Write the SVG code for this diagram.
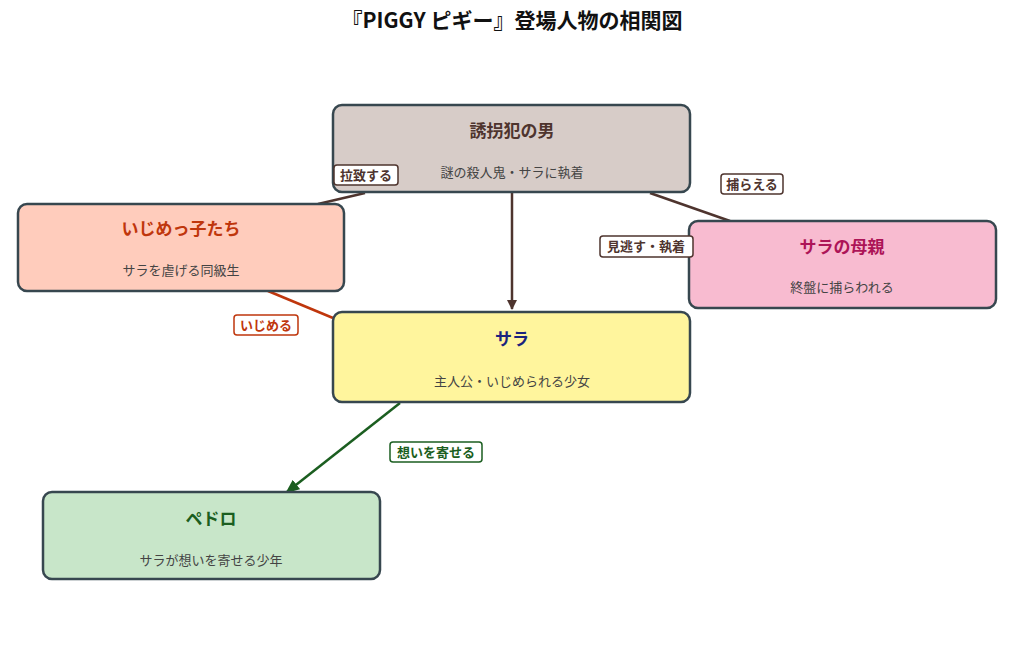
<svg xmlns="http://www.w3.org/2000/svg" width="1024" height="657" viewBox="0 0 1024 657">
<style>
text{font-family:"Noto Sans CJK JP","Noto Sans",sans-serif;text-anchor:middle}
.box{stroke:#37474f;stroke-width:2.5}
.t{font-size:17px;font-weight:bold}
.s{font-size:13px;fill:#444}
.lb{fill:#fff;stroke-width:1.5}
.lt{font-size:13px;font-weight:bold}
</style>
<defs>
<marker id="ab" markerWidth="10" markerHeight="10" refX="9" refY="5" orient="auto" markerUnits="userSpaceOnUse"><path d="M0,0L10,5L0,10z" fill="#4e342e"/></marker>
<marker id="ag" markerWidth="14" markerHeight="12" refX="12" refY="6" orient="auto" markerUnits="userSpaceOnUse"><path d="M0,0L14,6L0,12z" fill="#1b5e20"/></marker>
</defs>
<rect width="1024" height="657" fill="#fff"/>
<text x="512" y="28" style="font-size:21px;font-weight:bold" fill="#111">『PIGGY ピギー』登場人物の相関図</text>
<g id="connectors" fill="none" stroke-width="2.5">
<line x1="365" y1="193" x2="318" y2="204" stroke="#4e342e"/>
<line x1="650" y1="193" x2="730" y2="221" stroke="#4e342e"/>
<line x1="512" y1="193" x2="512" y2="309" stroke="#4e342e" marker-end="url(#ab)"/>
<line x1="268" y1="291" x2="333" y2="318" stroke="#bf360c"/>
<line x1="400" y1="403" x2="287" y2="492" stroke="#1b5e20" marker-end="url(#ag)"/>
</g>
<g id="n-man"><rect class="box" x="333" y="105" width="357" height="87" rx="9" fill="#d7ccc8"/><text class="t" x="512" y="137" fill="#4e342e">誘拐犯の男</text><text class="s" x="512" y="177">謎の殺人鬼・サラに執着</text></g>
<g id="n-ijime"><rect class="box" x="18" y="204" width="326" height="87" rx="9" fill="#ffccbc"/><text class="t" x="181" y="235" fill="#bf360c">いじめっ子たち</text><text class="s" x="181" y="275">サラを虐げる同級生</text></g>
<g id="n-mother"><rect class="box" x="689" y="221" width="307" height="87" rx="9" fill="#f8bbd0"/><text class="t" x="842" y="253" fill="#ad1457">サラの母親</text><text class="s" x="842" y="292">終盤に捕らわれる</text></g>
<g id="n-sara"><rect class="box" x="333" y="312" width="357" height="90" rx="9" fill="#fff59d"/><text class="t" x="512" y="345" fill="#1a237e">サラ</text><text class="s" x="512" y="386">主人公・いじめられる少女</text></g>
<g id="n-pedro"><rect class="box" x="43" y="492" width="337" height="87" rx="9" fill="#c8e6c9"/><text class="t" x="211" y="525" fill="#1b5e20">ペドロ</text><text class="s" x="211" y="565">サラが想いを寄せる少年</text></g>
<g id="labels">
<rect class="lb" x="334" y="165" width="64" height="20" rx="3" stroke="#4e342e"/><text class="lt" x="366" y="180" fill="#4e342e">拉致する</text>
<rect class="lb" x="721" y="174" width="62" height="20" rx="3" stroke="#4e342e"/><text class="lt" x="752" y="189" fill="#4e342e">捕らえる</text>
<rect class="lb" x="600" y="236" width="93" height="21" rx="3" stroke="#4e342e"/><text class="lt" x="646" y="251" fill="#4e342e">見逃す・執着</text>
<rect class="lb" x="234" y="315" width="64" height="20" rx="3" stroke="#bf360c"/><text class="lt" x="266" y="330" fill="#bf360c">いじめる</text>
<rect class="lb" x="390" y="442" width="92" height="20" rx="3" stroke="#1b5e20"/><text class="lt" x="436" y="457" fill="#1b5e20">想いを寄せる</text>
</g>
</svg>
